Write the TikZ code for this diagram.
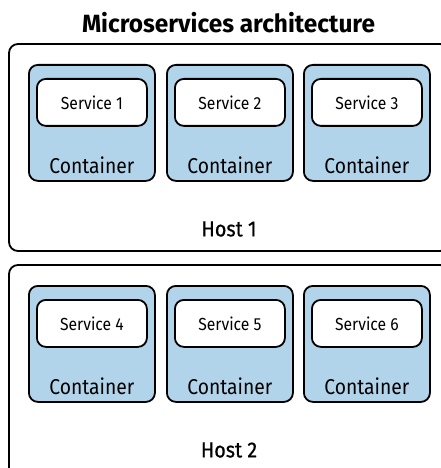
\documentclass[tikz,border=0pt]{standalone}
\usepackage{fontspec}
\setmainfont{Fira Sans}[FakeStretch=0.9]
\newfontfamily\titlefont{Fira Sans}[FakeStretch=0.98,BoldFont={* Bold}]
\newfontfamily\hostfont{Fira Sans}[FakeStretch=0.9,FakeBold=0.6]
\definecolor{boxblue}{RGB}{178,212,234}
\tikzset{
  hostbox/.style={draw=black, line width=1.8bp, rounded corners=9bp, fill=white},
  contbox/.style={draw=black, line width=1.8bp, rounded corners=9bp, fill=boxblue},
  servbox/.style={draw=black, line width=1.8bp, rounded corners=9bp, fill=white},
  servtext/.style={font=\fontsize{17.5}{20}\selectfont, inner sep=0pt},
  conttext/.style={font=\fontsize{21.5}{24}\selectfont, inner sep=0pt},
  hosttext/.style={font=\hostfont\fontsize{22}{25}\selectfont, inner sep=0pt},
  titletext/.style={font=\titlefont\bfseries\fontsize{25}{27}\selectfont, inner sep=0pt}
}
\begin{document}
\begin{tikzpicture}[x=1bp, y=-1bp]
  \useasboundingbox (0,0) rectangle (441,468);
  \node[titletext] (title) at (228.5,23) {Microservices architecture};
  \foreach \h/\hy in {1/0, 2/221} {
    % host frame, running off the right and lower edge
    \draw[hostbox] (9,44+\hy) rectangle (449,251+\hy+\hy*0.2);
    \node[hosttext] (host\h) at (229,229+\hy) {Host \h};
    \foreach \c/\cx in {1/28, 2/166, 3/303} {
      \pgfmathtruncatemacro{\n}{(\h-1)*3+\c}
      \node[contbox, minimum width=126bp, minimum height=116bp, anchor=north west, inner sep=0pt]
        (cont\n) at (\cx,64+\hy) {};
      \node[servbox, minimum width=110bp, minimum height=47bp, anchor=north, inner sep=0pt]
        (serv\n) at ([yshift=-14bp]cont\n.north) {};
      \node[servtext] (servlabel\n) at (serv\n) {Service \n};
      \node[conttext] (contlabel\n) at ([yshift=17bp]cont\n.south) {Container};
    }
  }
\end{tikzpicture}
\end{document}
